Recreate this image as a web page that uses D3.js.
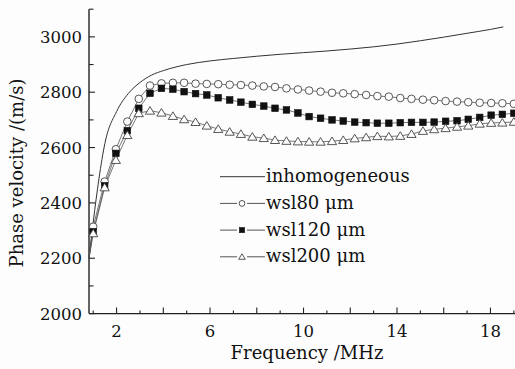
<!DOCTYPE html>
<html>
<head>
<meta charset="utf-8">
<script src="https://cdn.jsdelivr.net/npm/d3@7/dist/d3.min.js"></script>
<style>
  html, body { margin: 0; padding: 0; background: #fdfdfd; }
  svg { display: block; font-family: "DejaVu Serif", serif; }
</style>
</head>
<body>
<svg id="chart" width="515" height="369"></svg>
<script>
// marker frequencies (MHz), shared by the three wsl series
const freqs = [1.00, 1.49, 1.97, 2.46, 2.95, 3.43, 3.92, 4.41, 4.89, 5.38,
  5.86, 6.35, 6.84, 7.32, 7.81, 8.30, 8.78, 9.27, 9.76, 10.24,
  10.73, 11.22, 11.70, 12.19, 12.68, 13.16, 13.65, 14.14, 14.62, 15.11,
  15.59, 16.08, 16.57, 17.05, 17.54, 18.03, 18.51, 19.00];

const wsl80 = [2314, 2477, 2594, 2694, 2776, 2824, 2832, 2834, 2834, 2831,
  2830, 2829, 2827, 2826, 2824, 2821, 2819, 2814, 2810, 2806,
  2802, 2798, 2796, 2793, 2790, 2786, 2784, 2779, 2776, 2773,
  2771, 2768, 2766, 2764, 2762, 2761, 2760, 2758];

const wsl120 = [2296, 2462, 2579, 2661, 2742, 2796, 2814, 2811, 2802, 2795,
  2790, 2780, 2772, 2764, 2756, 2750, 2742, 2736, 2725, 2712,
  2706, 2700, 2696, 2692, 2690, 2688, 2688, 2690, 2691, 2691,
  2692, 2695, 2697, 2702, 2709, 2717, 2720, 2724];

const wsl200 = [2290, 2456, 2555, 2645, 2724, 2733, 2726, 2714, 2702, 2692,
  2679, 2667, 2657, 2649, 2639, 2634, 2627, 2624, 2622, 2621,
  2621, 2623, 2627, 2633, 2637, 2641, 2640, 2642, 2649, 2660,
  2666, 2670, 2675, 2679, 2686, 2689, 2690, 2693];

// lead-in point at the left axis edge (no marker drawn there)
const leadFreq = 0.82;
const leadValues = { wsl80: 2205, wsl120: 2200, wsl200: 2200 };

// inhomogeneous reference curve
const inhomFreqs = [0.82, 1.0, 1.25, 1.5, 2.0, 2.5, 3.0, 3.5, 4.0, 5.0,
  6.0, 7.0, 8.0, 9.0, 10.0, 11.0, 12.0, 13.0, 14.0, 15.0,
  16.0, 17.0, 18.0, 18.55];
const inhomValues = [2200, 2330, 2490, 2615, 2730, 2795, 2835, 2862, 2878, 2900,
  2913, 2922, 2930, 2937, 2943, 2949, 2956, 2964, 2974, 2986,
  2999, 3013, 3027, 3036];

const xTicks = [2, 6, 10, 14, 18];
const yTicks = [2000, 2200, 2400, 2600, 2800, 3000];

const svg = d3.select("#chart");

const x = d3.scaleLinear().domain([0.82, 19.05]).range([89, 515]);
const y = d3.scaleLinear().domain([2000, 3100]).range([313.6, 9.2]);

const ink = "#222";

// axes: inward ticks, left + bottom spines only
const xMinor = d3.range(1, 20, 1);
const xAxis = svg.append("g").attr("transform", `translate(0,${y(2000)})`);
xAxis.append("line").attr("x1", 89).attr("x2", 515).attr("stroke", ink).attr("stroke-width", 1.4);
xAxis.selectAll(".xt").data(xMinor).enter().append("line")
  .attr("x1", d => x(d)).attr("x2", d => x(d))
  .attr("y1", 0).attr("y2", d => d % 2 === 0 ? -6 : -3)
  .attr("stroke", ink).attr("stroke-width", 1.1);
xAxis.selectAll(".xl").data(xTicks).enter().append("text")
  .attr("x", d => x(d)).attr("y", 23.5)
  .attr("text-anchor", "middle")
  .attr("font-size", "16.5px").attr("fill", "#111")
  .text(d => d);

const yMinor = d3.range(2000, 3101, 100);
const yAxis = svg.append("g").attr("transform", "translate(89,0)");
yAxis.append("line").attr("y1", 9.2).attr("y2", y(2000)).attr("stroke", ink).attr("stroke-width", 1.4);
yAxis.selectAll(".yt").data(yMinor).enter().append("line")
  .attr("y1", d => y(d)).attr("y2", d => y(d))
  .attr("x1", 0).attr("x2", d => d % 200 === 0 ? 6 : 4.5)
  .attr("stroke", ink).attr("stroke-width", 1.1);
yAxis.selectAll(".yl").data(yTicks).enter().append("text")
  .attr("x", -7).attr("y", d => y(d))
  .attr("dy", "0.36em")
  .attr("text-anchor", "end")
  .attr("font-size", "16.5px").attr("fill", "#111")
  .text(d => d);

svg.append("text")
  .attr("x", (232 + 382) / 2).attr("y", 359)
  .attr("text-anchor", "middle")
  .attr("font-size", "18px").attr("fill", "#111")
  .text("Frequency /MHz");

svg.append("text")
  .attr("transform", "translate(23,173) rotate(-90)")
  .attr("text-anchor", "middle")
  .attr("font-size", "18px").attr("fill", "#111")
  .text("Phase velocity /(m/s)");

// data lines
const smoothLine = d3.line().x(d => x(d[0])).y(d => y(d[1])).curve(d3.curveMonotoneX);

svg.append("path")
  .datum(inhomFreqs.map((f, i) => [f, inhomValues[i]]))
  .attr("fill", "none").attr("stroke", "#333").attr("stroke-width", 1)
  .attr("d", smoothLine);

const series = [
  { name: "wsl80 \u03bcm", values: wsl80, lead: leadValues.wsl80, shape: "circle" },
  { name: "wsl120 \u03bcm", values: wsl120, lead: leadValues.wsl120, shape: "square" },
  { name: "wsl200 \u03bcm", values: wsl200, lead: leadValues.wsl200, shape: "triangle" }
];

const plainLine = d3.line().x(d => x(d[0])).y(d => y(d[1]));

function drawMarker(g, shape, cx, cy, size) {
  if (shape === "circle") {
    g.append("circle").attr("cx", cx).attr("cy", cy).attr("r", size)
      .attr("fill", "#fdfdfd").attr("stroke", "#444").attr("stroke-width", 0.9);
  } else if (shape === "square") {
    g.append("rect").attr("x", cx - size).attr("y", cy - size)
      .attr("width", size * 2).attr("height", size * 2)
      .attr("fill", "#111").attr("stroke", "#111").attr("stroke-width", 0.6);
  } else {
    const h = size * 1.9;
    const w = size * 1.15;
    g.append("path")
      .attr("d", `M${cx},${cy - h * 0.55} L${cx + w},${cy + h * 0.45} L${cx - w},${cy + h * 0.45} Z`)
      .attr("fill", "#fdfdfd").attr("stroke", "#444").attr("stroke-width", 0.9);
  }
}

series.forEach(s => {
  const pts = [[leadFreq, s.lead]].concat(freqs.map((f, i) => [f, s.values[i]]));
  svg.append("path")
    .datum(pts)
    .attr("fill", "none").attr("stroke", "#555").attr("stroke-width", 0.8)
    .attr("d", plainLine);
});

series.forEach(s => {
  const g = svg.append("g");
  const size = s.shape === "circle" ? 3.8 : (s.shape === "square" ? 3.3 : 4);
  freqs.forEach((f, i) => drawMarker(g, s.shape, x(f), y(s.values[i]), size));
});

// legend
const legendRows = [{ name: "inhomogeneous", shape: null }].concat(series);
const legend = svg.append("g");
legendRows.forEach((r, i) => {
  const ly = 176.7 + i * 26.7;
  if (r.shape === null) {
    legend.append("line").attr("x1", 220).attr("x2", 265).attr("y1", ly).attr("y2", ly)
      .attr("stroke", "#333").attr("stroke-width", 1);
  } else {
    legend.append("line").attr("x1", 220).attr("x2", 237).attr("y1", ly).attr("y2", ly)
      .attr("stroke", "#555").attr("stroke-width", 1);
    legend.append("line").attr("x1", 247).attr("x2", 265).attr("y1", ly).attr("y2", ly)
      .attr("stroke", "#555").attr("stroke-width", 1);
    drawMarker(legend, r.shape, 242, ly, r.shape === "square" ? 2.6 : 2.9);
  }
  legend.append("text")
    .attr("x", 266).attr("y", ly).attr("dy", "0.3em")
    .attr("font-size", "18px").attr("fill", "#111")
    .text(r.name);
});
</script>
</body>
</html>
